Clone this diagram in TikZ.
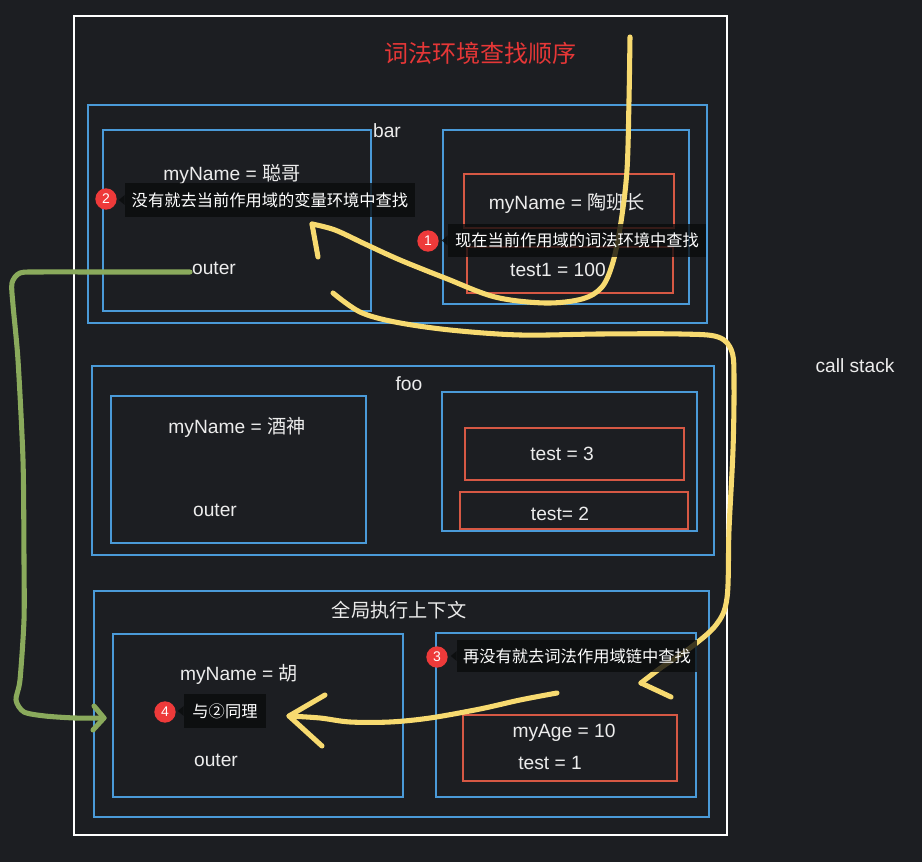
\documentclass[tikz,border=0pt]{standalone}
\usepackage{fontspec}
\setmainfont{Liberation Sans}
\newfontfamily\cjk{Noto Sans CJK SC}
\usetikzlibrary{fit}
\definecolor{bg}{RGB}{28,30,34}
\definecolor{bl}{RGB}{74,154,216}
\definecolor{rd}{RGB}{214,88,68}
\definecolor{yl}{RGB}{247,218,112}
\definecolor{gr}{RGB}{138,170,92}
\definecolor{tipc}{RGB}{10,11,12}
\definecolor{badge}{RGB}{238,58,58}
\definecolor{ttl}{RGB}{230,55,55}
\definecolor{txt}{RGB}{236,236,236}
\begin{document}
\begin{tikzpicture}[x=0.75pt,y=-0.75pt,
 bluebox/.style={draw=bl,line width=2.2pt,inner sep=0pt},
 redbox/.style={draw=rd,line width=2.2pt,inner sep=0pt},
 lbl/.style={text=txt,font=\fontsize{14.4}{16}\selectfont,inner sep=0pt},
 tipbox/.style={fill=tipc,fill opacity=0.78,inner sep=0pt},
 tiptext/.style={text=white,font=\cjk\fontsize{12.2}{14}\selectfont,inner sep=0pt},
 badgenode/.style={circle,fill=badge,minimum size=16pt,inner sep=0pt,text=white,font=\fontsize{10.5}{12}\selectfont},
 yline/.style={draw=yl,line width=3.8pt,line cap=round,line join=round},
 gline/.style={draw=gr,line width=3.8pt,line cap=round,line join=round}]

\fill[bg] (0,0) rectangle (922,862);
\useasboundingbox (0,0) rectangle (922,862);

\node[draw=white,line width=1.5pt,inner sep=0pt,fit={(74,16)(727,835)}] (frame) {};
\node[text=ttl,font=\cjk\fontsize{18}{20}\selectfont,inner sep=0pt] (title) at (480,53) {词法环境查找顺序};
\node[lbl] (cs) at (855,366) {call stack};

% bar
\node[bluebox,fit={(88,105)(707,323)}] (bar) {};
\node[lbl] (barl) at (387,131) {bar};
\node[bluebox,fit={(103,130)(371,311)}] (barv) {};
\node[lbl] (barn) at (232,174) {myName = {\cjk 聪哥}};
\node[lbl] (baro) at (214,268) {outer};
\node[bluebox,fit={(443,130)(689,304)}] (barlex) {};
\node[redbox,fit={(464,174)(674,228)}] (barr1) {};
\node[lbl] (barr1t) at (567,203) {myName = {\cjk 陶班长}};
\node[redbox,fit={(467,247)(673,293)}] (barr2) {};
\node[lbl] (barr2t) at (558,270) {test1 = 100};

% foo
\node[bluebox,fit={(92,366)(714,555)}] (foo) {};
\node[lbl] (fool) at (409,384) {foo};
\node[bluebox,fit={(111,396)(366,543)}] (foov) {};
\node[lbl] (foon) at (237,427) {myName = {\cjk 酒神}};
\node[lbl] (fooo) at (215,510) {outer};
\node[bluebox,fit={(442,392)(697,531)}] (foolex) {};
\node[redbox,fit={(465,428)(684,480)}] (foor1) {};
\node[lbl] (foor1t) at (562,454) {test = 3};
\node[redbox,fit={(460,492)(688,529)}] (foor2) {};
\node[lbl] (foor2t) at (560,514) {test= 2};

% global
\node[bluebox,fit={(94,591)(709,817)}] (glob) {};
\node[lbl,font=\cjk\fontsize{14.4}{16}\selectfont] (globl) at (399,610) {全局执行上下文};
\node[bluebox,fit={(113,634)(403,797)}] (globv) {};
\node[lbl] (globn) at (239,674) {myName = {\cjk 胡}};
\node[lbl] (globo) at (216,760) {outer};
\node[bluebox,fit={(436,633)(696,797)}] (globlex) {};
\node[redbox,fit={(463,715)(677,781)}] (globr) {};
\node[lbl] (globr1) at (564,733) {myAge = 10};
\node[lbl] (globr2) at (550,763) {test = 1};

% yellow strokes
\coordinate (ya0) at (630,37);
\coordinate (yat) at (312,224);
\draw[yline] plot[smooth,tension=0.55] coordinates {(ya0) (629,100) (627,170) (621,222) (613,262) (602,287) (582,299) (545,303) (495,297) (445,278) (400,260) (365,244) (335,230) (yat)};
\draw[yline] (yat) -- (318,257);

\coordinate (yb0) at (333,293);
\coordinate (ybt) at (641,683);
\draw[yline] plot[smooth,tension=0.55] coordinates {(yb0) (360,312) (395,322) (450,330) (520,335) (600,334) (680,334) (718,337) (732,352) (734,385) (733,450) (729,530) (727,598) (716,625) (690,648) (662,667) (ybt)};
\draw[yline] (ybt) -- (671,697);

\coordinate (yc0) at (557,693);
\coordinate (yct) at (289,716);
\draw[yline] plot[smooth,tension=0.55] coordinates {(yc0) (520,700) (480,709) (430,718) (390,722) (350,722) (320,718) (yct)};
\draw[yline] (325,695) -- (yct) -- (322,746);

% green stroke
\coordinate (g0) at (190,272);
\coordinate (gt) at (104,718);
\draw[gline] plot[smooth,tension=0.45] coordinates {(g0) (100,272) (40,272) (20,273) (12,283) (13,305) (18,360) (23,460) (24,560) (24,620) (20,680) (16,700) (24,712) (45,716) (75,718) (gt)};
\draw[gline] (94,706) -- (gt) -- (93,730);

% tooltips
\node[tipbox,fit={(448,224)(706,257)}] (t1) {};
\fill[tipc,fill opacity=0.78] (t1.west) ++(0,-5) -- ++(-6,5) -- ++(6,5) -- cycle;
\node[tiptext] at (t1.center) {现在当前作用域的词法环境中查找};
\node[badgenode] (b1) at (428,241) {1};

\node[tipbox,fit={(125,183)(415,217)}] (t2) {};
\fill[tipc,fill opacity=0.78] (t2.west) ++(0,-5) -- ++(-6,5) -- ++(6,5) -- cycle;
\node[tiptext] at (t2.center) {没有就去当前作用域的变量环境中查找};
\node[badgenode] (b2) at (106,199) {2};

\node[tipbox,fit={(457,640)(697,672)}] (t3) {};
\fill[tipc,fill opacity=0.78] (t3.west) ++(0,-5) -- ++(-6,5) -- ++(6,5) -- cycle;
\node[tiptext] at (t3.center) {再没有就去词法作用域链中查找};
\node[badgenode] (b3) at (437,657) {3};

\node[tipbox,fit={(184,694)(266,728)}] (t4) {};
\fill[tipc,fill opacity=0.78] (t4.west) ++(0,-5) -- ++(-6,5) -- ++(6,5) -- cycle;
\node[tiptext] at (t4.center) {与②同理};
\node[badgenode] (b4) at (165,712) {4};
\end{tikzpicture}
\end{document}
